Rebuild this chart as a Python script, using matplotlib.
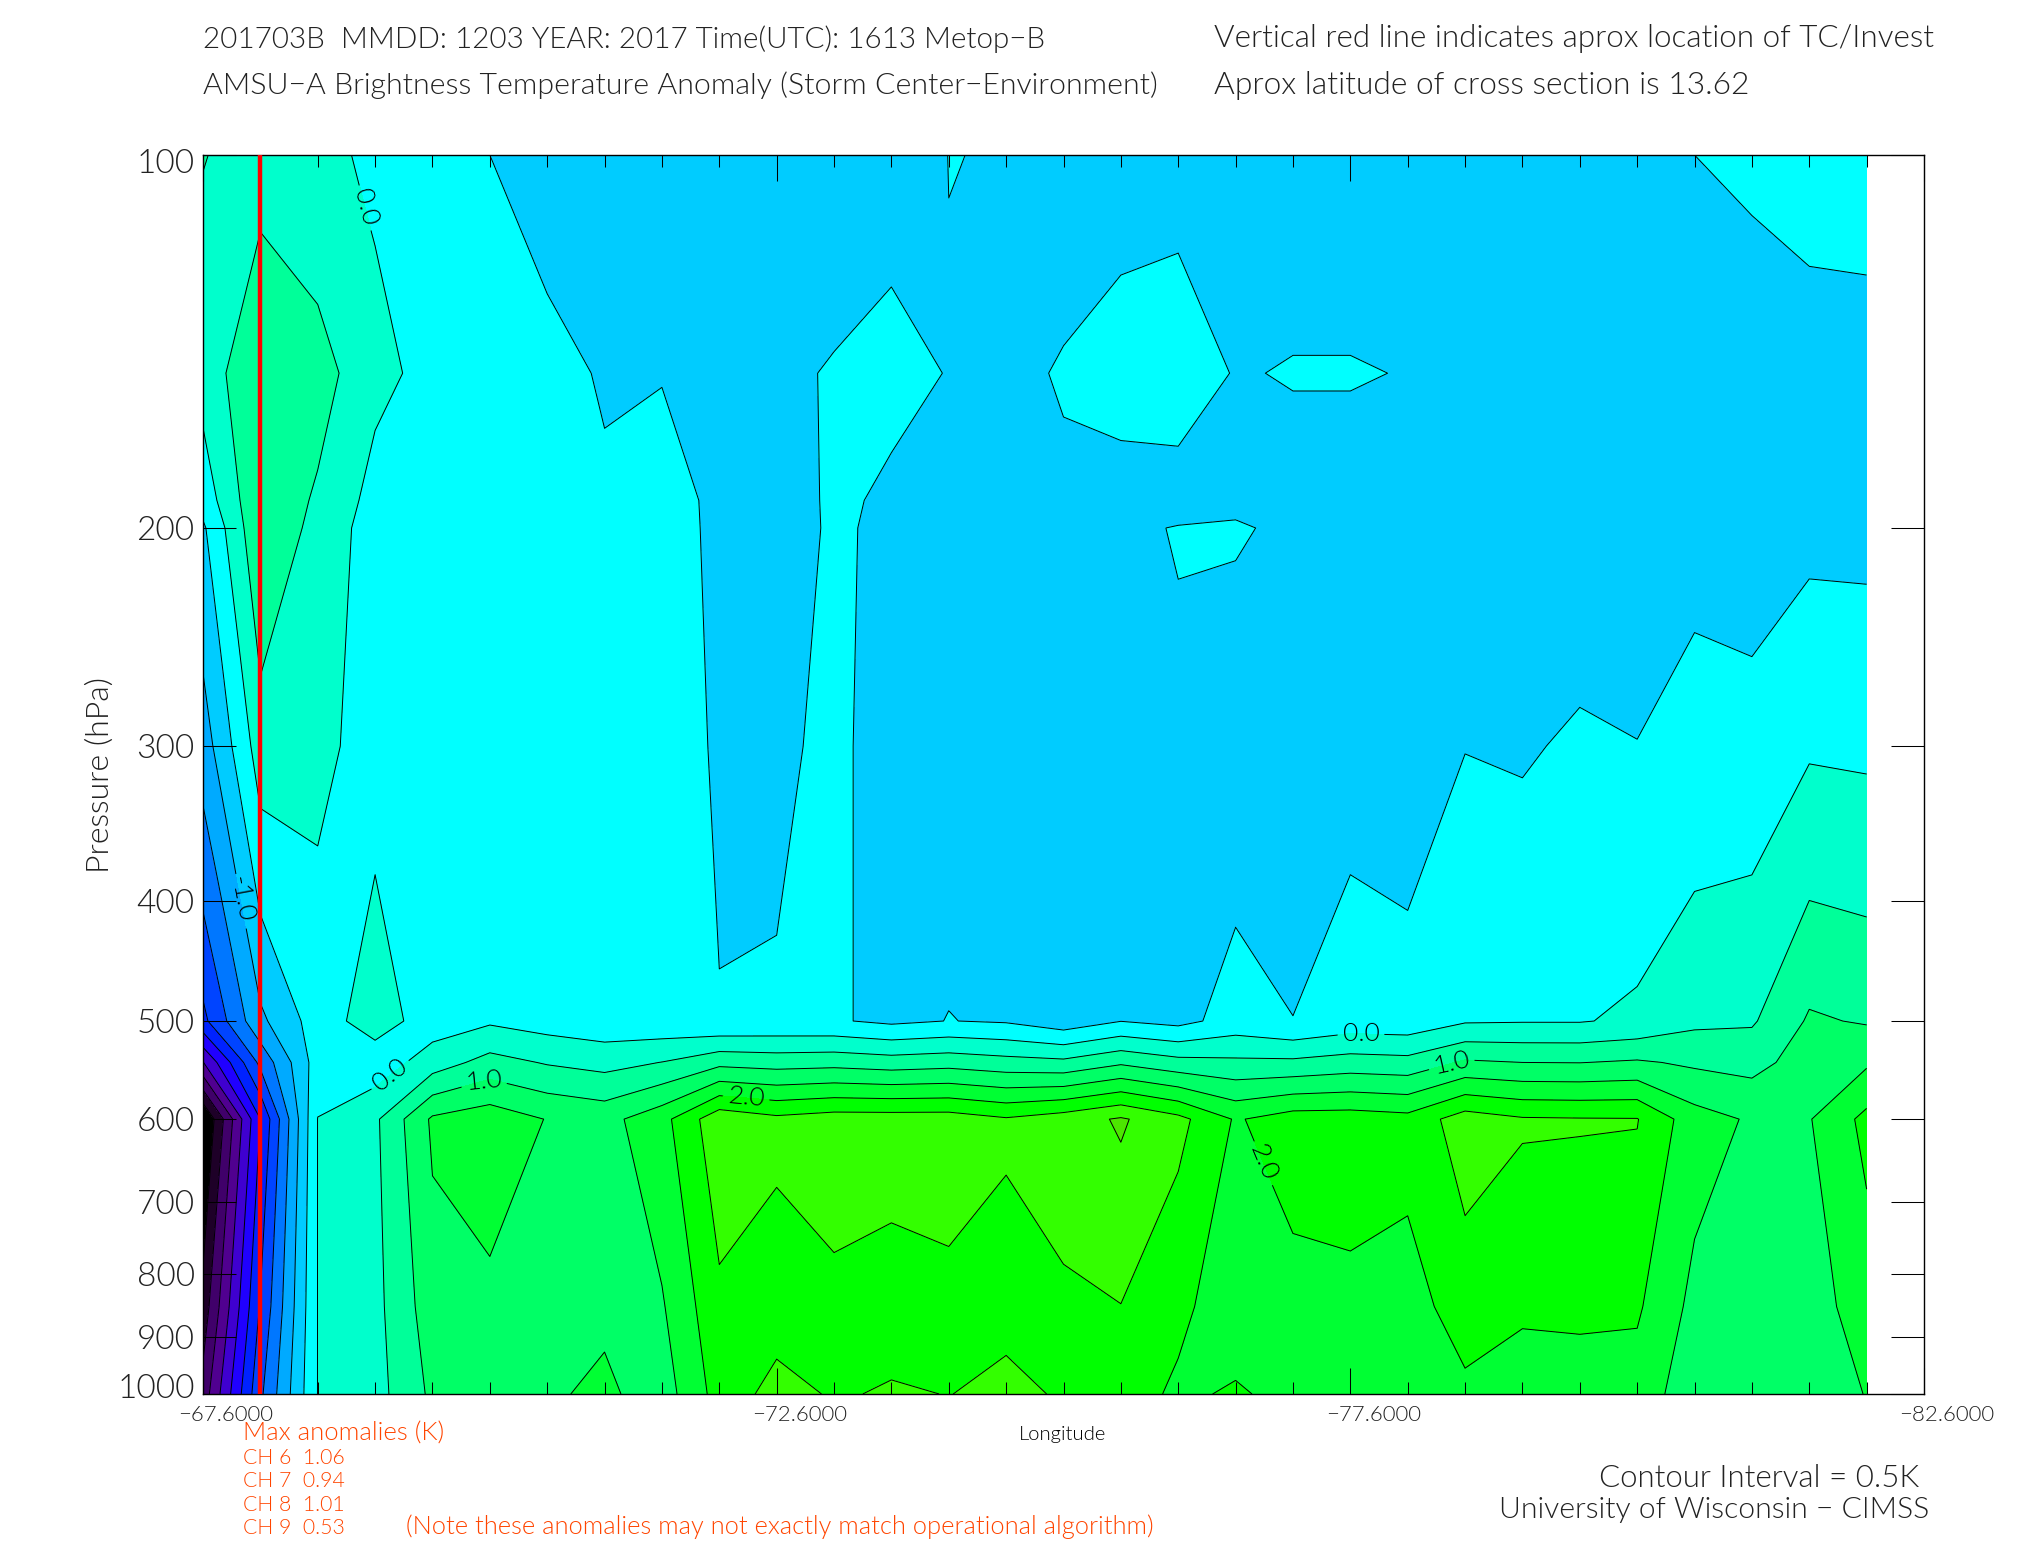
import matplotlib
matplotlib.use('Agg')
import matplotlib.pyplot as plt
import numpy as np
from matplotlib.ticker import NullLocator, NullFormatter
from matplotlib.transforms import ScaledTranslation

plt.rcParams['font.family'] = ['Lato', 'Liberation Sans', 'DejaVu Sans']
plt.rcParams['font.weight'] = 300
plt.rcParams['axes.labelweight'] = 300
plt.rcParams['contour.negative_linestyle'] = 'solid'

# longitudes of the cross section, every 0.5 deg
lons = [-67.6, -68.1, -68.6, -69.1, -69.6, -70.1, -70.6, -71.1, -71.6, -72.1,
        -72.6, -73.1, -73.6, -74.1, -74.6, -75.1, -75.6, -76.1, -76.6, -77.1,
        -77.6, -78.1, -78.6, -79.1, -79.6, -80.1, -80.6, -81.1, -81.6, -82.1]
pressures = [100, 150, 190, 200, 300, 500, 540, 600, 850, 1000]

# anomaly (K) per pressure level
t100 = [.52, .3, .1, -.07, -.22, -.5, -.58, -.6, -.6, -.62,
        -.6, -.8, -.6, -.498, -.505, -.7, -.6, -.58, -.65, -.62,
        -.62, -.65, -.65, -.65, -.65, -.6, -.5, -.45, -.42, -.4]
t150 = [.2, .95, .725, .12, -.13, -.4, -.444, -.517, -.52, -.62,
        -.6, -.46, -.42, -.51, -.6, -.465, -.4, -.38, -.514, -.487,
        -.487, -.507, -.65, -.7, -.7, -.7, -.65, -.66, -.594, -.6]
t190 = [-.3, .94, .42, -.165, -.31, -.4, -.39, -.475, -.32, -.6,
        -.68, -.44, -.554, -.62, -.64, -.575, -.6, -.6, -.6, -.59,
        -.59, -.65, -.72, -.72, -.74, -.74, -.63, -.72, -.61, -.615]
t200 = [-.576, .93, .34, -.236, -.36, -.4, -.38, -.46, -.3, -.6,
        -.7, -.44, -.585, -.65, -.65, -.6, -.54, -.489, -.457, -.58,
        -.62, -.66, -.7, -.72, -.75, -.75, -.621, -.735, -.61, -.618]
t300 = [-1.26, .25, .11, -.17, -.32, -.36, -.35, -.42, -.1, -.6,
        -.62, -.36, -.78, -.7, -.7, -.7, -.7, -.544, -.8, -.7,
        -.636, -.696, -.51, -.547, -.434, -.49, -.339, -.3, -.056, -.083]
t500 = [-2.63, -1.11, -.25, .25, -.25, -.07, -.22, -.33, -.37, -.47,
        -.43, -.45, -.6, -.49, -.55, -.8, -.51, -.65, -.3, -.495,
        -.3, -.33, -.05, -.03, -.03, .09, .39, .44, 1.06, .957]
t540 = [-4.02, -1.87, -.25, -.3, .25, .68, .46, .33, .51, .86,
        .79, .83, .74, .81, .69, .62, .92, .67, .6, .6,
        .72, .67, 1.07, 1.0, .99, 1.06, .92, .84, 1.22, 1.43]
t600 = [-6.1, -3.0, .01, .41, 1.58, 1.8, 1.48, 1.33, 1.83, 2.85,
        2.62, 2.75, 2.75, 2.75, 2.55, 2.76, 3.06, 2.65, 1.95, 2.25,
        2.26, 2.17, 2.75, 2.55, 2.53, 2.52, 1.71, 1.44, 1.47, 2.14]
t850 = [-5.3, -2.45, .01, .35, 1.28, 1.37, 1.35, 1.4, 1.45, 2.38,
        2.25, 2.38, 2.26, 2.36, 2.36, 2.41, 2.49, 2.04, 1.9, 1.81,
        1.87, 1.81, 2.22, 2.1, 2.15, 2.07, 1.36, 1.2, 1.3, 1.72]
t1000 = [-4.8, -2.1, .01, .31, 1.1, 1.2, 1.43, 1.6, 1.25, 2.2,
         2.68, 2.45, 2.55, 2.49, 2.62, 2.45, 2.08, 1.97, 2.02, 1.95,
         1.8, 1.75, 1.9, 1.68, 1.65, 1.77, 1.21, 1.15, 1.2, 1.52]

levels = np.arange(-6.5, 4.0, 0.5)
labelled_levels = [-1.0, 0.0, 1.0, 2.0]
band_colors = ['#000000', '#000000', '#1e0028', '#40006a', '#500090', '#3f00d0',
               '#2000ff', '#0022ff', '#0044ff', '#0077ff', '#00aaff', '#00ccff',
               '#00ffff', '#00ffcc', '#00ff99', '#00ff66', '#00ff33', '#00ff00',
               '#33ff00', '#4de600']

y_ticks = [100, 200, 300, 400, 500, 600, 700, 800, 900, 1000]
x_major = [-67.6, -72.6, -77.6, -82.6]
storm_lon = -68.1

max_lines = ['Max anomalies (K)', 'CH 6  1.06', 'CH 7  0.94', 'CH 8  1.01', 'CH 9  0.53']

anomaly = np.array([t100, t150, t190, t200, t300, t500, t540, t600, t850, t1000])

W, H = 2025, 1550
fig = plt.figure(figsize=(W / 100, H / 100), dpi=100)
ax = fig.add_axes([203 / W, 1 - 1394 / H, (1924 - 203) / W, (1394 - 155) / H])

ax.set_yscale('log')
ax.set_xlim(-67.6, -82.6)
ax.set_ylim(1000, 100)

ax.contourf(lons, pressures, anomaly, levels=levels, colors=band_colors)
plain_levels = [v for v in levels if v not in labelled_levels]
ax.contour(lons, pressures, anomaly, levels=plain_levels, colors='k', linewidths=0.7)
cs = ax.contour(lons, pressures, anomaly, levels=labelled_levels, colors='k', linewidths=0.7)


def lon_at(x):
    return -67.6 - (x - 157) / 88.87


def p_at(y):
    return 10 ** (2 + (y - 120) / 959)


# contour labels, placed by hand where the reference has them
label_spots = [(285, 160), (190, 695), (298, 827), (374, 834), (578, 846),
               (1054, 797), (1123, 819), (978, 900)]
cs.clabel(fmt='%.1f', fontsize=19, colors='k',
          manual=[(lon_at(x), p_at(y)) for x, y in label_spots])

ax.axvline(storm_lon, color='#ff0000', linewidth=3.2, zorder=5)

# axis ticks point inward on all four sides
ax.set_yticks(y_ticks)
ax.set_yticklabels([str(v) for v in y_ticks], fontsize=24, color='#222222')
ax.yaxis.set_minor_locator(NullLocator())
ax.yaxis.set_minor_formatter(NullFormatter())
ax.tick_params(axis='y', which='major', direction='in', length=24, width=0.75,
               left=True, right=True, pad=6, zorder=6)
y_labels = ax.get_yticklabels()
y_labels[0].set_transform(y_labels[0].get_transform()
                          + ScaledTranslation(0, -6 / 100, fig.dpi_scale_trans))
y_labels[-1].set_transform(y_labels[-1].get_transform()
                           + ScaledTranslation(0, 8 / 100, fig.dpi_scale_trans))

ax.set_xticks(x_major)
ax.set_xticklabels([f'\u2212{abs(v):.4f}' for v in x_major], fontsize=16, color='#222222')
ax.set_xticks(lons, minor=True)
ax.tick_params(axis='x', which='major', direction='in', length=18.7, width=0.75,
               top=True, bottom=True, pad=8)
ax.tick_params(axis='x', which='minor', direction='in', length=8.6, width=0.75,
               top=True, bottom=True)
shift = ScaledTranslation(23 / 100, 0, fig.dpi_scale_trans)
for lab in ax.get_xticklabels():
    lab.set_transform(lab.get_transform() + shift)

for sp in ax.spines.values():
    sp.set_linewidth(1.0)

renderer = fig.canvas.get_renderer()


def put(x0, x1, y, s, color='#222222', rotation=0):
    # x0, x1, y in the 1568x1200 view of the reference; font size set to fit the width
    sc = W / 1568
    t = fig.text(x0 * sc / W, 1 - y * sc / H, s, ha='left', va='center', fontsize=20,
                 color=color, rotation=rotation)
    w = t.get_window_extent(renderer).width
    t.set_fontsize(20 * (x1 - x0) * sc / w)
    return t


put(157, 810, 30, '201703B  MMDD: 1203 YEAR: 2017 Time(UTC): 1613 Metop\u2212B')
put(157, 897, 66, 'AMSU\u2212A Brightness Temperature Anomaly (Storm Center\u2212Environment)')
put(940, 1498, 30, 'Vertical red line indicates aprox location of TC/Invest')
put(940, 1356, 66, 'Aprox latitude of cross section is 13.62')
put(789, 857, 1111, 'Longitude', color='k')
put(1238, 1486, 1145, 'Contour Interval = 0.5K')
put(1161, 1494, 1169, 'University of Wisconsin \u2212 CIMSS')

red = '#ff4500'
put(188, 343, 1110, max_lines[0], color=red)
for line, y in zip(max_lines[1:], [1129, 1147, 1165, 1183]):
    put(188, 267, y, line, color=red)
put(314, 891, 1182, '(Note these anomalies may not exactly match operational algorithm)', color=red)

ax.set_ylabel('Pressure (hPa)', fontsize=23, color='#222222', labelpad=2)

fig.savefig('out.png', dpi=100)
